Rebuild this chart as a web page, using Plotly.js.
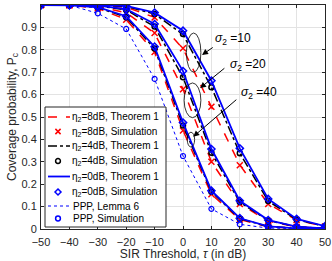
<!DOCTYPE html>
<html><head><meta charset="utf-8">
<script src="https://cdn.plot.ly/plotly-3.0.1.min.js"></script>
<style>html,body{margin:0;padding:0;background:#fff}#c{width:332px;height:261px}</style>
</head><body><div id="c"></div>
<script>
// ---- data ----
const tau = [-50,-40,-30,-20,-10,0,10,20,30,40,50];
// eta2 = 8 dB
const th8_s10 = [1,1,0.998,0.99,0.945,0.805,0.545,0.286,0.112,0.04,0.011];
const th8_s20 = [1,0.999,0.993,0.965,0.874,0.625,0.30,0.112,0.035,0.009,0.003];
const th8_s40 = [1,0.999,0.985,0.935,0.79,0.44,0.155,0.042,0.01,0.003,0.001];
const sim8_s10 = [1,1,0.998,0.99,0.944,0.807,0.546,0.285,0.112,0.04,0.011];
const sim8_s20 = [1,0.999,0.993,0.964,0.875,0.624,0.30,0.112,0.035,0.009,0.003];
const sim8_s40 = [1,0.999,0.985,0.934,0.79,0.44,0.155,0.042,0.01,0.003,0.001];
// eta2 = 4 dB
const th4_s10 = [1,1,0.999,0.994,0.96,0.868,0.633,0.338,0.125,0.042,0.012];
const th4_s20 = [1,1,0.996,0.978,0.903,0.677,0.34,0.12,0.038,0.01,0.003];
const th4_s40 = [1,0.999,0.989,0.945,0.805,0.462,0.166,0.046,0.011,0.003,0.001];
const sim4_s10 = [1,1,0.999,0.994,0.96,0.87,0.633,0.338,0.125,0.042,0.012];
const sim4_s20 = [1,1,0.996,0.978,0.904,0.677,0.34,0.12,0.038,0.01,0.003];
const sim4_s40 = [1,0.999,0.989,0.945,0.806,0.462,0.166,0.046,0.011,0.003,0.001];
// eta2 = 0 dB
const th0_s10 = [1,1,0.999,0.996,0.966,0.885,0.662,0.36,0.134,0.045,0.013];
const th0_s20 = [1,1,0.997,0.982,0.915,0.705,0.357,0.126,0.04,0.011,0.003];
const th0_s40 = [1,0.999,0.99,0.95,0.814,0.475,0.171,0.048,0.012,0.003,0.001];
const sim0_s10 = [1,1,0.999,0.996,0.966,0.885,0.662,0.36,0.134,0.045,0.013];
const sim0_s20 = [1,1,0.997,0.982,0.915,0.705,0.357,0.126,0.04,0.011,0.003];
const sim0_s40 = [1,0.999,0.99,0.95,0.814,0.475,0.171,0.048,0.012,0.003,0.001];
// PPP
const ppp_lemma = [1,0.999,0.963,0.893,0.67,0.326,0.09,0.021,0.004,0.001,0];
const ppp_sim = [1,0.999,0.963,0.893,0.67,0.326,0.09,0.021,0.004,0.001,0];
const xTicks = [-50,-40,-30,-20,-10,0,10,20,30,40,50];
const legendLabels = ['η<sub>2</sub>=8dB, Theorem 1','η<sub>2</sub>=8dB, Simulation','η<sub>2</sub>=4dB, Theorem 1','η<sub>2</sub>=4dB, Simulation','η<sub>2</sub>=0dB, Theorem 1','η<sub>2</sub>=0dB, Simulation','PPP, Lemma 6','PPP, Simulation'];
const sigmaLabels = ['<i>σ</i><sub>2</sub> =10','<i>σ</i><sub>2</sub> =20','<i>σ</i><sub>2</sub> =40'];

const RED='#ff0000', BLK='#000000', BLU='#0000ff';
const FONT='Liberation Sans, Arial, sans-serif';
const traces=[];
function line(y,color,dash,w){traces.push({x:tau,y:y,type:'scatter',mode:'lines',line:{color:color,dash:dash,width:w},showlegend:false,hoverinfo:'skip'});}
function mark(y,color,sym,sz,w){traces.push({x:tau,y:y,type:'scatter',mode:'markers',marker:{symbol:sym,size:sz,color:color,line:{color:color,width:w}},showlegend:false,hoverinfo:'skip'});}
[th8_s10,th8_s20,th8_s40].forEach(y=>line(y,RED,'dash',1.5));
[sim8_s10,sim8_s20,sim8_s40].forEach(y=>mark(y,RED,'x-thin-open',6,1.5));
[th4_s10,th4_s20,th4_s40].forEach(y=>line(y,BLK,'dashdot',1.5));
[sim4_s10,sim4_s20,sim4_s40].forEach(y=>mark(y,BLK,'circle-open',5,1.5));
[th0_s10,th0_s20,th0_s40].forEach(y=>line(y,BLU,'solid',1.8));
[sim0_s10,sim0_s20,sim0_s40].forEach(y=>mark(y,BLU,'diamond-open',5.5,1.5));
line(ppp_lemma,BLU,'dot',1);
mark(ppp_sim,BLU,'circle-open',5,1.2);

// ---- legend drawn as shapes/annotations (pixel helper -> paper fraction) ----
const L=41,R=325,T=5,B=229;
const PX=p=>(p-L)/(R-L), PY=p=>(B-p)/(B-T);
const shapes=[], ann=[];
shapes.push({type:'rect',xref:'paper',yref:'paper',x0:PX(45),x1:PX(166),y0:PY(227),y1:PY(107),fillcolor:'#fff',line:{color:'#262626',width:1},layer:'above'});
const rowY=[117,131.5,146,161,176.5,192,206,218.5];
const sx0=48,sx1=70,mx=58;
function lsample(py,color,dash,w){shapes.push({type:'line',xref:'paper',yref:'paper',x0:PX(sx0),x1:PX(sx1),y0:PY(py),y1:PY(py),line:{color:color,dash:dash,width:w},layer:'above'});}
function xsample(py){const d=2.6;shapes.push({type:'path',xref:'paper',yref:'paper',path:`M${PX(mx-d)},${PY(py-d)}L${PX(mx+d)},${PY(py+d)}M${PX(mx-d)},${PY(py+d)}L${PX(mx+d)},${PY(py-d)}`,line:{color:RED,width:1.5},layer:'above'});}
function csample(py,color){const r=2.4;shapes.push({type:'circle',xref:'paper',yref:'paper',x0:PX(mx-r),x1:PX(mx+r),y0:PY(py+r),y1:PY(py-r),line:{color:color,width:1.5},layer:'above'});}
function dsample(py){const d=3;shapes.push({type:'path',xref:'paper',yref:'paper',path:`M${PX(mx)},${PY(py-d)}L${PX(mx+d)},${PY(py)}L${PX(mx)},${PY(py+d)}L${PX(mx-d)},${PY(py)}Z`,line:{color:BLU,width:1.5},layer:'above'});}
lsample(rowY[0],RED,'dash',1.5);
xsample(rowY[1]);
lsample(rowY[2],BLK,'dashdot',1.5);
csample(rowY[3],BLK);
lsample(rowY[4],BLU,'solid',1.8);
dsample(rowY[5]);
lsample(rowY[6],BLU,'dot',1);
csample(rowY[7],BLU);
legendLabels.forEach((t,i)=>ann.push({xref:'paper',yref:'paper',x:PX(i>=6?71:69.5),y:PY(rowY[i]),text:t,showarrow:false,xanchor:'left',yanchor:'middle',font:{family:FONT,size:10,color:'#000'}}));

// ---- sigma annotations ----
const ell=[[1.2,6.3,0.70,0.875],[0.4,6.3,0.497,0.652],[1.5,4.1,0.366,0.432]];
ell.forEach(e=>shapes.push({type:'circle',xref:'x',yref:'y',x0:e[0],x1:e[1],y0:e[2],y1:e[3],line:{color:'#000',width:0.8},layer:'above'}));
const arrows=[[6.7,0.777,11.0,0.815],[6.0,0.629,15.1,0.723],[3.6,0.412,19.3,0.583]];
arrows.forEach(a=>ann.push({xref:'x',yref:'y',x:a[0],y:a[1],ax:a[2],ay:a[3],axref:'x',ayref:'y',text:'',showarrow:true,arrowhead:2,arrowsize:1.2,arrowwidth:1,arrowcolor:'#000'}));
const sigPos=[[10.6,0.85],[15.9,0.733],[19.8,0.607]];
sigmaLabels.forEach((t,i)=>ann.push({xref:'x',yref:'y',x:sigPos[i][0],y:sigPos[i][1],text:t,showarrow:false,xanchor:'left',yanchor:'middle',font:{family:FONT,size:12,color:'#000'}}));

const axcommon={showgrid:true,gridcolor:'#e3e3e3',gridwidth:1,zeroline:false,showline:true,linecolor:'#262626',linewidth:1,mirror:'ticks',ticks:'inside',ticklen:3,tickcolor:'#262626',tickfont:{family:FONT,size:11,color:'#262626'}};
const layout={
  width:332,height:261,margin:{l:L,r:332-R,t:T,b:261-B},
  paper_bgcolor:'#fff',plot_bgcolor:'#fff',showlegend:false,
  xaxis:Object.assign({},axcommon,{range:[-50,50],tickvals:xTicks,ticklabelstandoff:3,title:{text:'SIR Threshold, <i>τ</i> (in dB)',font:{family:FONT,size:12,color:'#262626'},standoff:3}}),
  yaxis:Object.assign({},axcommon,{range:[0,1],dtick:0.1,tick0:0,ticklabelstandoff:1,title:{text:'Coverage probability, P<sub>c</sub>',font:{family:FONT,size:12,color:'#262626'},standoff:2}}),
  shapes:shapes,annotations:ann
};
Plotly.newPlot('c',traces,layout,{staticPlot:true,displayModeBar:false});
</script></body></html>
